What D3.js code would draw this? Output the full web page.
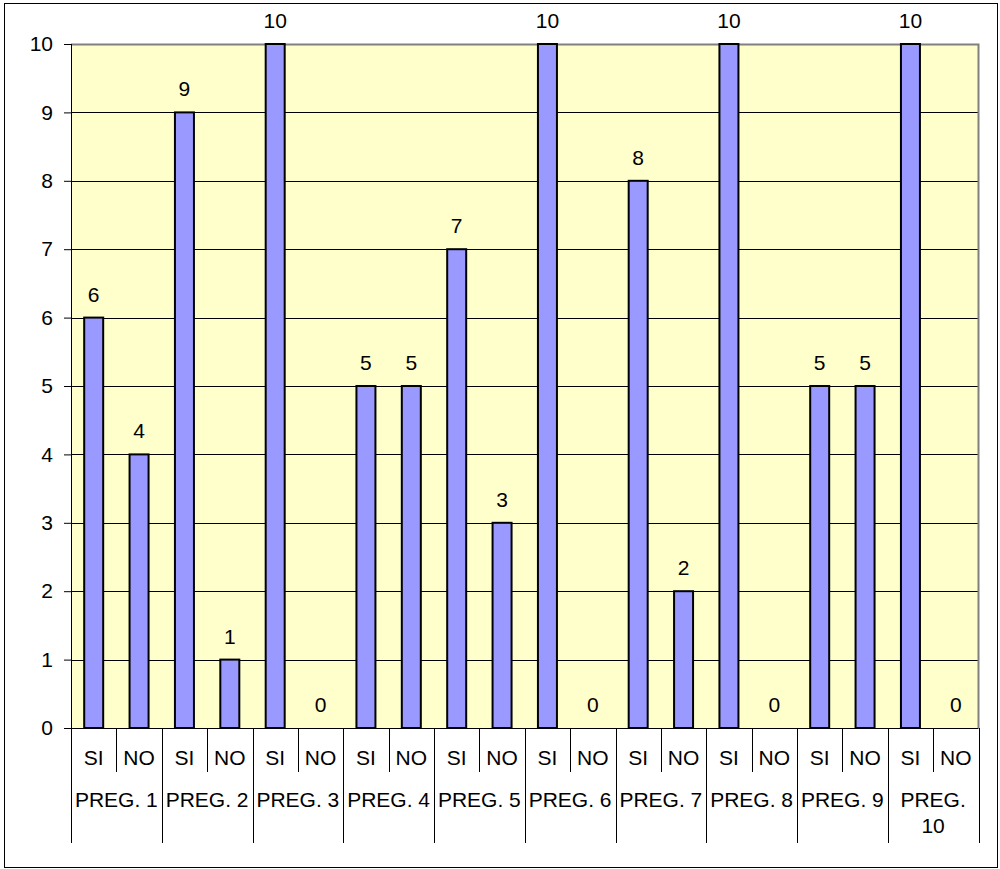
<!DOCTYPE html>
<html><head><meta charset="utf-8">
<script src="https://cdn.jsdelivr.net/npm/d3@7"></script>
<style>body{margin:0;background:#fff;} text{font-family:"Liberation Sans",Arial,sans-serif;}</style>
</head><body><svg id="c" width="1000" height="869"></svg>
<script>
const questions = ["PREG. 1","PREG. 2","PREG. 3","PREG. 4","PREG. 5","PREG. 6","PREG. 7","PREG. 8","PREG. 9","PREG. 10"];
const answers = ["SI","NO"];
const siValues = [6,9,10,5,7,10,8,10,5,10];
const noValues = [4,1,0,5,3,0,2,0,5,0];
const yTicks = [0,1,2,3,4,5,6,7,8,9,10];

const data = [];
questions.forEach((q,i)=>{
  data.push({q, a:"SI", v:siValues[i], key:q+"|SI"});
  data.push({q, a:"NO", v:noValues[i], key:q+"|NO"});
});

const FS = 21;
const svg = d3.select("#c");
const L=71, R=978.5, T=44, B=728;
svg.append("rect").attr("x",4.5).attr("y",3.5).attr("width",993).attr("height",864)
  .attr("fill","#fff").attr("stroke","#000").attr("stroke-width",1);

const x = d3.scaleBand().domain(data.map(d=>d.key)).range([L,R]).paddingInner(0).paddingOuter(0);
const y = d3.scaleLinear().domain([0,10]).range([B,T]);

svg.append("rect").attr("x",L).attr("y",T).attr("width",R-L).attr("height",B-T)
  .attr("fill","#FFFFCC").attr("stroke","none");

// gridlines
svg.append("g").selectAll("line").data(yTicks.filter(t=>t>0 && t<10)).join("line")
  .attr("x1",L).attr("x2",R).attr("y1",d=>Math.round(y(d))+0.5).attr("y2",d=>Math.round(y(d))+0.5)
  .attr("stroke","#000").attr("stroke-width",1);
// plot border top & right
svg.append("path").attr("d",`M${L},${T+0.5}H${R}V${B}`).attr("fill","none").attr("stroke","#808080").attr("stroke-width",2);

// y axis
const ya = d3.axisLeft(y).tickValues(yTicks).tickSize(7).tickPadding(11);
const gy = svg.append("g").attr("transform",`translate(${L},0)`).call(ya);
gy.select(".domain").remove();
gy.selectAll(".tick line").attr("stroke","#000");
gy.selectAll("text").attr("font-size",FS).attr("fill","#000").style("font-family","'Liberation Sans',Arial,sans-serif");
svg.append("line").attr("x1",L+0.5).attr("x2",L+0.5).attr("y1",T).attr("y2",B).attr("stroke","#000");

// bars
const bw = 19;
svg.append("g").selectAll("rect").data(data).join("rect")
  .attr("x",d=>x(d.key)+x.bandwidth()/2-bw/2).attr("width",bw)
  .attr("y",d=>y(d.v)).attr("height",d=>B-y(d.v))
  .attr("fill","#9999FF").attr("stroke","#000").attr("stroke-width",2)
  .style("display",d=>d.v===0?"none":null);

// labels
svg.append("g").selectAll("text").data(data).join("text")
  .attr("x",d=>x(d.key)+x.bandwidth()/2).attr("y",d=>y(d.v)-16)
  .attr("text-anchor","middle").attr("font-size",FS).attr("fill","#000").text(d=>d.v);

// x axis line
svg.append("line").attr("x1",L-7).attr("x2",R).attr("y1",B+0.5).attr("y2",B+0.5).attr("stroke","#000").attr("stroke-width",1);

// category tick lines
const bounds = d3.range(data.length+1).map(i=> i<data.length ? x(data[i].key) : R);
svg.append("g").selectAll("line").data(bounds).join("line")
  .attr("x1",d=>Math.round(d)+0.5).attr("x2",d=>Math.round(d)+0.5)
  .attr("y1",B).attr("y2",(d,i)=> i%2===0 ? 843 : 772)
  .attr("stroke","#000").attr("stroke-width",1);

// answer labels
svg.append("g").selectAll("text").data(data).join("text")
  .attr("x",d=>x(d.key)+x.bandwidth()/2).attr("y",765)
  .attr("text-anchor","middle").attr("font-size",FS).attr("fill","#000").text(d=>d.a);

// question labels
const gw = x.bandwidth()*2;
const qg = svg.append("g").selectAll("text").data(questions).join("text")
  .attr("x",(d,i)=>x(d+"|SI")+gw/2).attr("y",807)
  .attr("text-anchor","middle").attr("font-size",FS).attr("fill","#000");
qg.each(function(d){
  const t = d3.select(this);
  t.text(d);
  const w = this.getComputedTextLength();
  if (w > gw-2) {
    t.text(null);
    const parts = d.split(" ");
    parts.forEach((p,k)=>t.append("tspan").attr("x",t.attr("x")).attr("dy",k?26:0).text(p));
  }
});
</script></body></html>
